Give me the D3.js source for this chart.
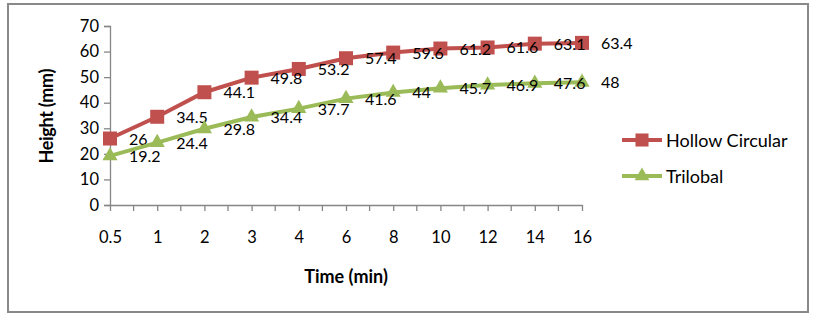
<!DOCTYPE html>
<html>
<head>
<meta charset="utf-8">
<script src="https://cdn.jsdelivr.net/npm/d3@7"></script>
<style>
  body { margin: 0; background: #fff; }
  text { font-family: Lato, "Liberation Sans", sans-serif; }
</style>
</head>
<body>
<svg id="chart" width="813" height="317"></svg>
<script>
// data
const times = ["0.5", "1", "2", "3", "4", "6", "8", "10", "12", "14", "16"];
const hollowCircular = [26, 34.5, 44.1, 49.8, 53.2, 57.4, 59.6, 61.2, 61.6, 63.1, 63.4];
const trilobal = [19.2, 24.4, 29.8, 34.4, 37.7, 41.6, 44, 45.7, 46.9, 47.6, 48];
const yTicks = [0, 10, 20, 30, 40, 50, 60, 70];

const series = [
    {name: "Hollow Circular", values: hollowCircular, color: "#C0504D", shape: d3.symbolSquare},
    {name: "Trilobal", values: trilobal, color: "#9BBB59", shape: d3.symbolTriangle}
];

const svg = d3.select("#chart");
const axisColor = "#868686";

// outer frame
svg.append("rect")
    .attr("x", 8).attr("y", 4)
    .attr("width", 800).attr("height", 308)
    .attr("fill", "#fff")
    .attr("stroke", "#898989")
    .attr("stroke-width", 2);

const x = d3.scalePoint().domain(times).range([110, 582]);
const y = d3.scaleLinear().domain([0, 70]).range([205, 26]);

// y axis
const yAxis = svg.append("g")
    .attr("transform", "translate(110,0)")
    .call(d3.axisLeft(y).tickValues(yTicks).tickSize(6).tickPadding(5).tickFormat(d3.format("d")));
yAxis.select(".domain").attr("stroke", axisColor).attr("stroke-width", 1.3);
yAxis.selectAll(".tick line").attr("stroke", axisColor).attr("stroke-width", 1.3);
yAxis.selectAll("text").attr("font-size", 16.5).attr("fill", "#000").attr("font-family", "Lato");

// x axis, major ticks on categories plus minor ticks between
const xAxis = svg.append("g")
    .attr("transform", "translate(0,205)")
    .call(d3.axisBottom(x).tickSize(6).tickPadding(20).tickSizeOuter(0));
xAxis.select(".domain").attr("stroke", axisColor).attr("stroke-width", 1.3);
xAxis.selectAll(".tick line").attr("stroke", axisColor).attr("stroke-width", 1.3);
xAxis.selectAll("text").attr("font-size", 16.5).attr("fill", "#000").attr("font-family", "Lato");
const mids = d3.pairs(times).map(p => (x(p[0]) + x(p[1])) / 2);
xAxis.selectAll(".minor")
    .data(mids)
    .join("line")
    .attr("class", "minor")
    .attr("x1", d => d).attr("x2", d => d)
    .attr("y1", 0).attr("y2", 6)
    .attr("stroke", axisColor)
    .attr("stroke-width", 1.3);

// axis titles
svg.append("text")
    .attr("transform", "translate(53,116) rotate(-90)")
    .attr("text-anchor", "middle")
    .attr("font-size", 18)
    .attr("font-weight", "bold")
    .attr("textLength", 95)
    .text("Height (mm)");
svg.append("text")
    .attr("x", 346).attr("y", 283)
    .attr("text-anchor", "middle")
    .attr("font-size", 18)
    .attr("font-weight", "bold")
    .text("Time (min)");

const line = d3.line()
    .x((d, i) => x(times[i]))
    .y(d => y(d));

series.forEach(s => {
    const g = svg.append("g");
    g.append("path")
        .attr("d", line(s.values))
        .attr("fill", "none")
        .attr("stroke", s.color)
        .attr("stroke-width", 4);
    g.selectAll("path.mark")
        .data(s.values)
        .join("path")
        .attr("class", "mark")
        .attr("transform", (d, i) => `translate(${x(times[i])},${y(d)})`)
        .attr("d", d3.symbol().type(s.shape).size(s.shape === d3.symbolSquare ? 196 : 100))
        .attr("fill", s.color);
    g.selectAll("text")
        .data(s.values)
        .join("text")
        .attr("x", (d, i) => x(times[i]) + 19)
        .attr("y", d => y(d) + 6)
        .attr("font-size", 16)
        .text(d => d);
});

// legend
const legend = svg.append("g");
series.forEach((s, i) => {
    const ly = 140 + i * 36;
    legend.append("line")
        .attr("x1", 622).attr("x2", 662)
        .attr("y1", ly).attr("y2", ly)
        .attr("stroke", s.color)
        .attr("stroke-width", 4);
    legend.append("path")
        .attr("transform", `translate(642,${ly})`)
        .attr("d", d3.symbol().type(s.shape).size(s.shape === d3.symbolSquare ? 170 : 95))
        .attr("fill", s.color);
    legend.append("text")
        .attr("x", 666).attr("y", ly + 6.5)
        .attr("font-size", 18)
        .text(s.name);
});
</script>
</body>
</html>
